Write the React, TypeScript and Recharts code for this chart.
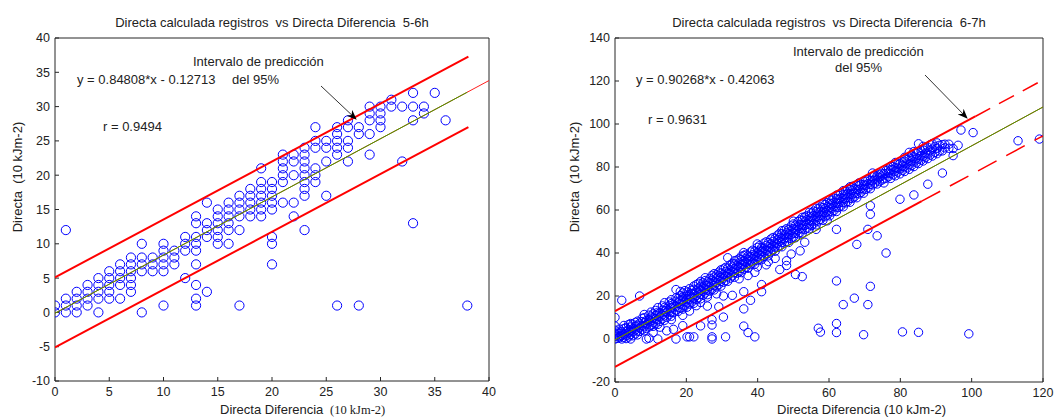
import React from 'react';
import { ScatterChart, Scatter, XAxis, YAxis } from 'recharts';

// ---- left panel (5-6h) ----
const leftXTicks = [0, 5, 10, 15, 20, 25, 30, 35, 40];
const leftYTicks = [-10, -5, 0, 5, 10, 15, 20, 25, 30, 35, 40];

// each row: x value, then the y values stacked at that x
const leftColumns: [number, number[]][] = [
  [0, [0, 1]],
  [1, [12, 2, 1, 0]],
  [2, [3, 2, 1, 0]],
  [3, [4, 3, 2, 1]],
  [4, [5, 4, 3, 2, 0]],
  [5, [6, 5, 4, 3, 2]],
  [6, [7, 6, 5, 4, 2]],
  [7, [8, 7, 6, 5, 4, 3]],
  [8, [10, 8, 7, 6, 0]],
  [9, [8, 7, 6]],
  [10, [10, 9, 8, 7, 6, 1]],
  [11, [9, 8, 7]],
  [12, [11, 10, 9, 5]],
  [13, [14, 13, 11, 10, 9, 7, 4, 2, 1]],
  [14, [16, 13, 12, 11, 3]],
  [15, [15, 14, 13, 12, 11, 10]],
  [16, [16, 15, 14, 13, 12, 10]],
  [17, [17, 16, 15, 14, 12, 1]],
  [18, [18, 17, 16, 15, 14]],
  [19, [21, 19, 18, 17, 16, 15, 14]],
  [20, [19, 18, 17, 16, 15, 11, 10, 7]],
  [21, [23, 22, 21, 20, 19, 16]],
  [22, [23, 22, 20, 16, 14]],
  [23, [24, 23, 22, 21, 20, 19, 18, 17, 12]],
  [24, [27, 25, 24, 21, 20, 19]],
  [25, [25, 24, 22, 17]],
  [26, [27, 26, 25, 24, 23, 1]],
  [27, [28, 27, 25, 24, 22]],
  [28, [27, 26, 1]],
  [29, [30, 29, 28, 26, 23]],
  [30, [30, 29, 28, 27]],
  [31, [31, 30]],
  [32, [30, 22]],
  [33, [32, 30, 28, 13]],
  [34, [30, 29]],
  [35, [32]],
  [36, [28]],
  [38, [1]],
];

const leftFitFull = [{ x: 0, y: -0.127 }, { x: 40, y: 33.8 }];
const leftFitData = [{ x: 0, y: -0.127 }, { x: 38, y: 32.1 }];
const leftUpper = [{ x: 0, y: 5.1 }, { x: 38.1, y: 37.3 }];
const leftLower = [{ x: 0, y: -5.1 }, { x: 38.1, y: 27.0 }];

// ---- right panel (6-7h) ----
const rightXTicks = [0, 20, 40, 60, 80, 100, 120];
const rightYTicks = [-20, 0, 20, 40, 60, 80, 100, 120, 140];

const rightColumns: [number, number[]][] = [
  [0, [0, 1.2, 2.5, 4.1, 6, 10]],
  [0.6, [0.3, 1.8, 3.2]],
  [1.2, [0.5, 2.7, 4.6, 1.1]],
  [1.9, [0, 1.6, 3.4, 18]],
  [2.5, [0.8, 2.2, 4.9, 6.3]],
  [3.1, [0.2, 1.4, 3.6, 5.2]],
  [3.8, [0.9, 2.8, 4.4, 6.7]],
  [4.4, [0, 2.1, 3.9, 5.6, 7.2]],
  [5.0, [1.5, 3.3, 4.8, 6.9]],
  [5.7, [2.4, 4.2, 5.9, 7.7]],
  [6.3, [1.9, 3.7, 6.4, 8.3]],
  [6.9, [3.5, 5.1, 7.3, 20]],
  [7.6, [4.3, 6.2, 8.1, 9.6]],
  [8.2, [3.8, 5.7, 7.5, 9.9, 11.4]],
  [8.8, [4.9, 6.8, 8.6, 0]],
  [9.5, [5.6, 7.9, 9.2, 11.1, 0.4]],
  [10.1, [6.3, 8.4, 10.2, 12.5]],
  [10.7, [5.9, 7.6, 9.8, 11.7, 3]],
  [11.4, [7.1, 9.5, 10.9, 13.3]],
  [12, [6.8, 8.9, 11.6, 12.4, 14.6, 0]],
  [12.6, [8.2, 10.3, 12.1, 5.5]],
  [13.3, [9.4, 11.2, 13.5, 15.4]],
  [13.9, [8.7, 10.8, 12.9, 14.7, 16.9]],
  [14.5, [10.1, 12.6, 14.2, 3.8]],
  [15.2, [11.3, 13.1, 15.6, 17.2]],
  [15.8, [10.6, 12.3, 14.4, 16.5, 18.3, 9]],
  [16.4, [12.2, 14.9, 16.1, 4.5]],
  [17.1, [13.4, 15.2, 17.6, 19.1, 23, 0]],
  [17.7, [12.8, 14.6, 16.8, 18.9]],
  [18.3, [14.3, 16.4, 17.9, 20.2, 22.1]],
  [19, [13.9, 15.8, 18.2, 19.6, 21.4, 6.2, 11]],
  [19.6, [15.5, 17.3, 19.8, 22.5]],
  [20.2, [14.8, 16.9, 18.7, 20.4, 21.8, 1]],
  [20.9, [16.2, 18.5, 20.6, 23.4, 1, 13]],
  [21.5, [17.1, 19.3, 21.2, 22.7]],
  [22.1, [16.6, 18.8, 20.9, 23.1, 24.6, 1]],
  [22.8, [18.4, 20.2, 22.4, 25.3, 15.5]],
  [23.4, [19.2, 21.5, 23.7, 25.9]],
  [24, [18.7, 20.8, 22.6, 24.5, 26.8, 6.1, 17]],
  [24.7, [20.3, 22.1, 24.2, 26.1]],
  [25.3, [21.4, 23.3, 25.1, 27.2, 28.5]],
  [25.9, [20.6, 22.7, 24.8, 26.6, 15.3, 19.5]],
  [26.6, [22.3, 24.4, 26.3, 28.2]],
  [27.2, [23.1, 25.2, 27.4, 29.6, 9, 6.5, 1, 0]],
  [27.8, [22.8, 24.9, 26.7, 28.8, 30.4]],
  [28.5, [24.2, 26.1, 28.4, 29.9, 21]],
  [29.1, [25.3, 27.2, 29.4, 31.1, 15]],
  [29.7, [24.6, 26.8, 28.7, 30.6, 32.2]],
  [30.4, [26.4, 28.3, 30.1, 32.6, 10.2, 20]],
  [31, [27.1, 29.2, 31.4, 33.3, 1]],
  [31.6, [26.8, 28.9, 30.7, 32.9, 37.8]],
  [32.3, [28.3, 30.5, 32.2, 34.5]],
  [32.9, [29.4, 31.3, 33.6, 35.2, 20.3]],
  [33.5, [28.7, 30.8, 32.7, 34.9, 36.4]],
  [34.2, [30.6, 32.4, 34.3, 36.7]],
  [34.8, [31.2, 33.5, 35.4, 37.3, 28]],
  [35.4, [30.9, 32.8, 34.6, 36.9, 38.5]],
  [36.1, [32.5, 34.7, 36.3, 38.8, 40.2, 14, 22, 6]],
  [36.7, [33.4, 35.6, 37.5, 39.4]],
  [37.3, [32.9, 34.9, 36.8, 38.6, 3, 29.5]],
  [38, [34.6, 36.2, 38.4, 40.5, 18]],
  [38.6, [35.3, 37.4, 39.2, 41.3]],
  [39.2, [34.8, 36.6, 38.7, 40.8, 1, 31]],
  [39.9, [36.5, 38.3, 40.4, 42.6, 44.2, 33.5]],
  [40.5, [37.2, 39.5, 41.3, 43.4]],
  [41.1, [36.9, 38.9, 40.7, 42.5, 25.3, 22]],
  [41.8, [38.4, 40.6, 42.2, 44.6]],
  [42.4, [39.3, 41.2, 43.5, 45.2, 34.5]],
  [43, [38.7, 40.8, 42.9, 44.8, 36]],
  [43.7, [40.5, 42.4, 44.3, 46.5]],
  [44.3, [41.4, 43.3, 45.4, 47.2]],
  [44.9, [40.8, 42.7, 44.6, 46.8, 37.5]],
  [45.6, [42.6, 44.5, 46.3, 48.4]],
  [46.2, [43.2, 45.4, 47.3, 49.1, 32.3]],
  [46.8, [42.9, 44.8, 46.7, 48.9, 50.4]],
  [47.5, [44.7, 46.6, 48.5, 50.6]],
  [48.1, [45.3, 47.2, 49.4, 51.3, 34.2, 36.4]],
  [48.7, [44.9, 46.9, 48.8, 50.9]],
  [49.4, [46.8, 48.6, 50.5, 52.6, 39.5]],
  [50, [47.4, 49.3, 51.4, 53.5, 54.8]],
  [50.6, [47.1, 49.1, 50.8, 52.9, 30]],
  [51.3, [48.9, 50.7, 52.5, 54.6]],
  [51.9, [49.5, 51.4, 53.3, 55.4, 41]],
  [52.5, [49.2, 51.2, 53.1, 55.2, 56.6, 29]],
  [53.2, [50.9, 52.8, 54.7, 56.8, 45]],
  [53.8, [51.6, 53.4, 55.5, 57.3]],
  [54.5, [51.3, 53.2, 55.1, 57.1, 58.9]],
  [55.1, [52.8, 54.9, 56.7, 58.6]],
  [55.7, [53.5, 55.4, 57.4, 59.5]],
  [56.4, [53.1, 55.2, 57.1, 59.2, 60.8, 51]],
  [57, [54.9, 56.8, 58.7, 60.6, 5]],
  [57.6, [55.6, 57.5, 59.4, 61.4, 3.2]],
  [58.3, [55.2, 57.2, 59.1, 61.1, 62.7]],
  [58.9, [56.9, 58.8, 60.7, 62.6]],
  [59.5, [57.6, 59.5, 61.5, 63.4, 55]],
  [60.2, [57.3, 59.2, 61.2, 63.1, 64.8]],
  [60.8, [59.1, 60.9, 62.8, 64.6]],
  [61.4, [59.7, 61.6, 63.5, 65.5]],
  [62.1, [59.3, 61.3, 63.3, 65.2, 66.9, 27, 7.2, 3, 51]],
  [62.7, [61.2, 63.1, 64.9, 66.8]],
  [63.3, [61.8, 63.7, 65.6, 67.6]],
  [64, [61.5, 63.4, 65.4, 67.3, 69, 16]],
  [64.6, [63.3, 65.2, 67.1, 68.9]],
  [65.2, [63.9, 65.8, 67.8, 69.7]],
  [65.9, [63.6, 65.5, 67.5, 69.5, 70.8]],
  [66.5, [65.4, 67.3, 69.2, 71]],
  [67.1, [66.1, 67.9, 69.9, 19]],
  [67.8, [65.7, 67.6, 69.6, 71.4, 44]],
  [68.4, [67.5, 69.4, 71.3, 72.6]],
  [69, [68.2, 70.1, 71.9]],
  [69.7, [67.8, 69.8, 71.7, 73.3, 2]],
  [70.3, [69.6, 71.5, 73.4]],
  [70.9, [70.3, 72.2, 74, 16, 51]],
  [71.6, [69.9, 71.9, 73.8, 24.5, 58, 62]],
  [72.2, [71.7, 73.6, 75.4, 77.2]],
  [72.8, [72.4, 74.3, 76.1]],
  [73.5, [72.1, 74, 75.9, 48]],
  [74.1, [73.2, 75.1, 76.6]],
  [74.8, [73.9, 75.8, 77.1]],
  [75.4, [72.6, 74.5, 76.9]],
  [76, [74.8, 76.9, 78.3, 40]],
  [76.7, [75.5, 77.4, 79.0]],
  [77.3, [74.7, 76.9, 78.6, 80.4]],
  [78, [76.4, 78.8, 80.2]],
  [78.6, [75.9, 78.1, 79.7, 82.1]],
  [79.3, [77.6, 79.5, 81.3]],
  [79.9, [76.8, 79.1, 81.5, 65]],
  [80.6, [78.4, 80.6, 82.4, 3.3]],
  [81.2, [77.9, 80.2, 82.7, 84.5]],
  [81.9, [79.6, 81.8, 83.6]],
  [82.5, [78.9, 81.1, 84.1, 86.8]],
  [83.2, [80.7, 82.9, 85.1]],
  [83.8, [80.2, 82.4, 84.8, 87.2, 67]],
  [84.5, [81.9, 84.2, 86.3]],
  [85.1, [81.6, 83.7, 86.9, 90.8, 3.1]],
  [85.8, [83.2, 85.3, 87.6]],
  [86.4, [82.8, 84.9, 87.9, 89.6]],
  [87.1, [84.5, 86.6, 88.9]],
  [87.7, [83.9, 86.1, 89.2, 72]],
  [88.4, [85.6, 87.8, 90.4]],
  [89, [85.1, 88.3, 90.9]],
  [89.7, [86.8, 89.6]],
  [90.3, [86.2, 88.7, 91.2]],
  [91, [87.4, 90.1]],
  [91.8, [87.5, 90.4, 77.2]],
  [92.5, [88.9, 90.6]],
  [93.6, [88.7, 90.6]],
  [94.8, [85.3, 88.6]],
  [96.2, [90.1]],
  [97, [97.2]],
  [99.2, [2.4]],
  [100.4, [96]],
  [113, [92.2]],
  [119, [93]],
];

const rightFit = [{ x: 0, y: -0.42 }, { x: 120, y: 107.9 }];
const rightUpperSolid = [{ x: 0, y: 13 }, { x: 101, y: 103.5 }];
const rightUpperDash = [{ x: 101, y: 103.5 }, { x: 120, y: 120.5 }];
const rightLowerSolid = [{ x: 0, y: -13 }, { x: 86, y: 64.1 }];
const rightLowerDash = [{ x: 86, y: 64.1 }, { x: 120, y: 94.5 }];

const toPoints = (cols: [number, number[]][]) =>
  cols.flatMap(([x, ys]) => ys.map((y) => ({ x, y })));

const SANS = "'Liberation Sans', Arial, sans-serif";
const SERIF = "'Liberation Serif', 'Times New Roman', serif";
const AXIS = '#262626';
const TEXT = '#222';
const tickStyle = { fill: TEXT, fontSize: 12.5, fontFamily: SANS };

type Pt = { x: number; y: number };
type Seg = { data: Pt[]; color: string; width: number; dash?: string };

const NoDot = () => <g />;

const makeCircle = (r: number) => (p: any) => (
  <circle cx={p.cx} cy={p.cy} r={r} fill="none" stroke="#0000ff" strokeWidth={1} />
);

interface PanelProps {
  width: number;
  margin: { top: number; right: number; bottom: number; left: number };
  xDomain: [number, number];
  yDomain: [number, number];
  xTicks: number[];
  yTicks: number[];
  points: Pt[];
  r: number;
  segs: Seg[];
}

const Panel: React.FC<PanelProps> = ({ width, margin, xDomain, yDomain, xTicks, yTicks, points, r, segs }) => (
  <ScatterChart width={width} height={417} margin={margin}>
    <XAxis
      xAxisId="b"
      type="number"
      dataKey="x"
      domain={xDomain}
      ticks={xTicks}
      interval={0}
      allowDataOverflow
      height={20}
      tickSize={-4}
      tickMargin={10}
      tick={tickStyle}
      stroke={AXIS}
    />
    <XAxis
      xAxisId="t"
      orientation="top"
      type="number"
      dataKey="x"
      domain={xDomain}
      ticks={xTicks}
      interval={0}
      allowDataOverflow
      height={1}
      tickSize={-4}
      tick={false}
      stroke={AXIS}
    />
    <YAxis
      yAxisId="l"
      type="number"
      dataKey="y"
      domain={yDomain}
      ticks={yTicks}
      interval={0}
      allowDataOverflow
      width={40}
      tickSize={-4}
      tickMargin={9}
      tick={tickStyle}
      stroke={AXIS}
    />
    <YAxis
      yAxisId="r"
      orientation="right"
      type="number"
      dataKey="y"
      domain={yDomain}
      ticks={yTicks}
      interval={0}
      allowDataOverflow
      width={1}
      tickSize={-4}
      tick={false}
      stroke={AXIS}
    />
    <Scatter xAxisId="b" yAxisId="l" data={points} shape={makeCircle(r)} isAnimationActive={false} />
    {segs.map((s, i) => (
      <Scatter
        key={i}
        xAxisId="b"
        yAxisId="l"
        data={s.data}
        line={{ stroke: s.color, strokeWidth: s.width, strokeDasharray: s.dash }}
        shape={NoDot}
        isAnimationActive={false}
      />
    ))}
  </ScatterChart>
);

export default function App() {
  const leftSegs: Seg[] = [
    { data: leftFitFull, color: '#ff2020', width: 1 },
    { data: leftFitData, color: '#3fa000', width: 1 },
    { data: leftUpper, color: '#ff0000', width: 2 },
    { data: leftLower, color: '#ff0000', width: 2 },
  ];
  const rightSegs: Seg[] = [
    { data: rightFit, color: '#ff2020', width: 1 },
    { data: rightFit, color: '#3fa000', width: 1 },
    { data: rightUpperSolid, color: '#ff0000', width: 2 },
    { data: rightUpperDash, color: '#ff0000', width: 1.5, dash: '17 10' },
    { data: rightLowerSolid, color: '#ff0000', width: 2 },
    { data: rightLowerDash, color: '#ff0000', width: 1.5, dash: '21 11' },
  ];

  const t = { fontFamily: SANS, fontSize: 13, fill: TEXT, style: { whiteSpace: 'pre' as const } };

  return (
    <div style={{ position: 'fixed', left: 0, top: 0, width: 1062, height: 417, background: '#fff', overflow: 'hidden' }}>
      <div style={{ position: 'absolute', left: 0, top: 0 }}>
        <Panel
          width={500}
          margin={{ top: 37, right: 10, bottom: 16, left: 15 }}
          xDomain={[0, 40]}
          yDomain={[-10, 40]}
          xTicks={leftXTicks}
          yTicks={leftYTicks}
          points={toPoints(leftColumns)}
          r={4.6}
          segs={leftSegs}
        />
      </div>
      <div style={{ position: 'absolute', left: 530, top: 0 }}>
        <Panel
          width={532}
          margin={{ top: 37, right: 18, bottom: 15, left: 45 }}
          xDomain={[0, 120]}
          yDomain={[-20, 140]}
          xTicks={rightXTicks}
          yTicks={rightYTicks}
          points={toPoints(rightColumns)}
          r={4.2}
          segs={rightSegs}
        />
      </div>
      <svg width={1062} height={417} style={{ position: 'absolute', left: 0, top: 0, pointerEvents: 'none' }}>
        <defs>
          <marker id="ah" viewBox="0 0 10 10" refX="9" refY="5" markerWidth="10" markerHeight="10" orient="auto" markerUnits="userSpaceOnUse">
            <path d="M0,1 L10,5 L0,9 L3,5 z" fill="#000" />
          </marker>
        </defs>
        {/* left panel texts */}
        <text x={272} y={27} textAnchor="middle" {...t}>Directa calculada registros  vs Directa Diferencia  5-6h</text>
        <text x={193} y={66} {...t}>Intervalo de predicción</text>
        <text x={232} y={84} {...t}>del 95%</text>
        <text x={77} y={84} {...t}>y = 0.84808*x - 0.12713</text>
        <text x={103} y={131} {...t}>r = 0.9494</text>
        <line x1={321} y1={86} x2={356} y2={119} stroke="#333" strokeWidth={1} markerEnd="url(#ah)" />
        <text x={220} y={414} {...t}>Directa Diferencia</text>
        <text x={330} y={414} fontFamily={SERIF} fontSize={12.5} fill={TEXT}>(10 kJm-2)</text>
        <text transform="translate(22,177) rotate(-90)" textAnchor="middle" {...t}>Directa  (10 kJm-2)</text>
        {/* right panel texts */}
        <text x={829} y={27} textAnchor="middle" {...t}>Directa calculada registros  vs Directa Diferencia  6-7h</text>
        <text x={793} y={56} {...t}>Intervalo de predicción</text>
        <text x={835} y={72} {...t}>del 95%</text>
        <text x={636} y={84} {...t}>y = 0.90268*x - 0.42063</text>
        <text x={648} y={124} {...t}>r = 0.9631</text>
        <line x1={925} y1={75} x2={967} y2={118} stroke="#333" strokeWidth={1} markerEnd="url(#ah)" />
        <text x={777} y={414} {...t}>Directa Diferencia (10 kJm-2)</text>
        <text transform="translate(579,177) rotate(-90)" textAnchor="middle" {...t}>Directa  (10 kJm-2)</text>
      </svg>
    </div>
  );
}
